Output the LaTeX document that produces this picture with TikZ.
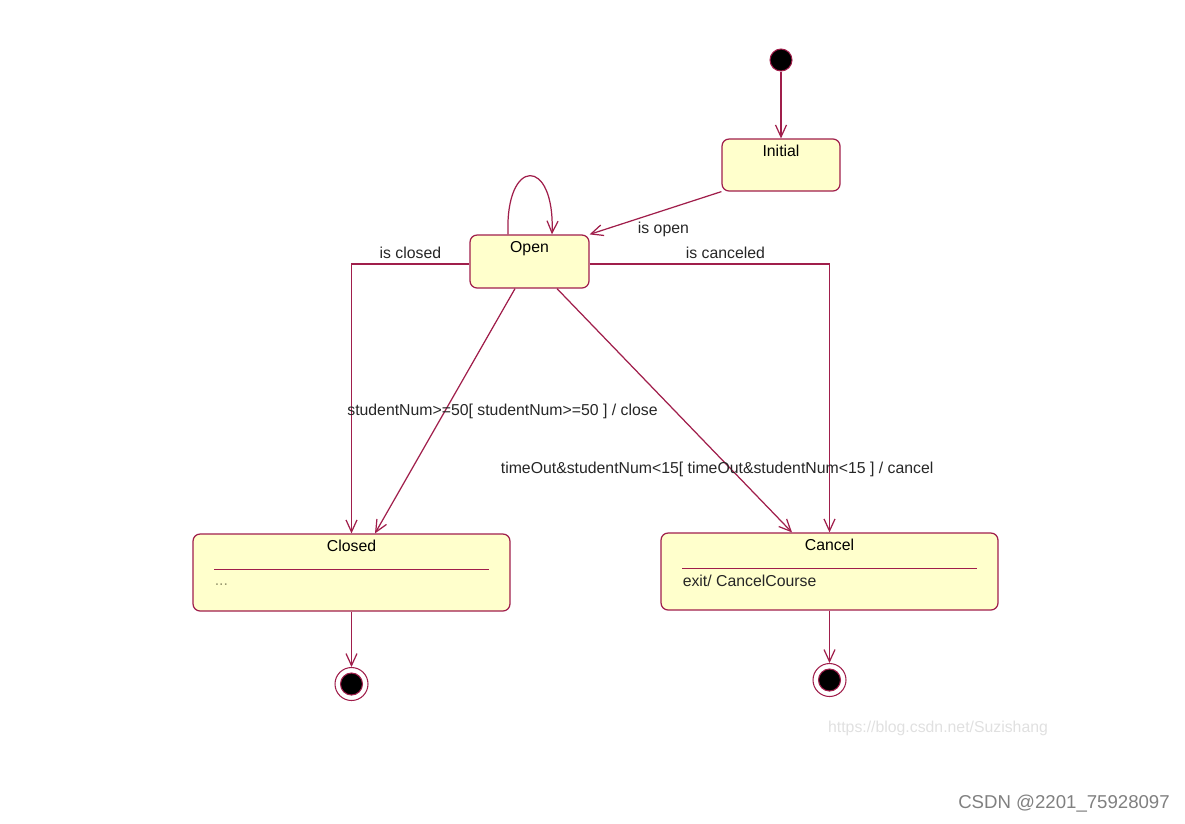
\documentclass[tikz,border=0pt]{standalone}
\usepackage{fontspec}
\setmainfont{Liberation Sans}
\usetikzlibrary{positioning, arrows.meta}
\definecolor{umlline}{RGB}{160,30,75}
\definecolor{umlfill}{RGB}{255,255,204}
\definecolor{umldots}{RGB}{150,150,110}

\begin{document}
\begin{tikzpicture}[
		x=0.02cm, y=-0.02cm,
		font=\fontsize{9pt}{11pt}\selectfont,
		state/.style={rectangle, draw=umlline, fill=umlfill, rounded corners=4pt, line width=0.7pt, inner sep=0pt},
		title/.style={anchor=center, yshift=-0.24cm, text height=1.6ex, text depth=0.3ex, inner sep=0pt},
		startdot/.style={circle, draw=umlline, fill=black, minimum size=0.44cm, inner sep=0pt, line width=0.6pt},
		enddot/.style={circle, draw=umlline, fill=white, minimum size=0.66cm, inner sep=0pt, line width=0.6pt,
		path picture={\fill[draw=umlline, fill=black] (path picture bounding box.center) circle (0.22cm);}},
		trans/.style={draw=umlline, line width=0.7pt, ->},
		mylabel/.style={text=black!85, inner sep=1pt},
		>={Straight Barb[length=2.4mm, width=2.2mm]}
	]

	\useasboundingbox (0,0) rectangle (1185,823);

	\node[startdot] (start) at (781,60) {};
	\node[state, minimum width=2.36cm, minimum height=1.04cm, label={[title]north:Initial}] (init) at (781,165) {};
	\node[state, minimum width=2.38cm, minimum height=1.06cm, label={[title]north:Open}] (open) at (529.5,261.5) {};
	\node[state, minimum width=6.34cm, minimum height=1.54cm, label={[title]north:Closed}] (closed) at (351.5,572.5) {};
	\node[state, minimum width=6.74cm, minimum height=1.54cm, label={[title]north:Cancel}] (cancel) at (829.5,571.5) {};
	\node[enddot] (endclosed) at (351.5,684) {};
	\node[enddot] (endcancel) at (829.5,680) {};

	\foreach \s in {closed, cancel}
		\draw[umlline, line width=0.7pt] ([xshift=0.44cm, yshift=-0.72cm]\s.north west) -- ([xshift=-0.44cm, yshift=-0.72cm]\s.north east);

	\node[anchor=west, text=umldots, inner sep=0pt] (dots) at ([xshift=0.44cm, yshift=-1.02cm]closed.north west) {...};
	\node[anchor=west, mylabel, inner sep=0pt] (exit) at ([xshift=0.44cm, yshift=-0.96cm]cancel.north west) {exit/ CancelCourse};

	\foreach \i/\j in {start/init, closed/endclosed, cancel/endcancel}
		\draw[trans] (\i) -- (\j);

	\draw[trans] (init.south west) -- node[mylabel, pos=0.44, yshift=-0.38cm] {is open} (open.north east);
	\draw[trans] ([yshift=-0.05cm]open.west) -| node[mylabel, pos=0.25, above=1.5pt] {is closed} (closed.north);
	\draw[trans] ([yshift=-0.05cm]open.east) -| node[mylabel, pos=0.283, above=1.5pt] {is canceled} (cancel.north);

	\draw[trans] ([xshift=-0.29cm]open.south) -- node[mylabel, pos=0.5, xshift=1.15cm] {studentNum>=50[ studentNum>=50 ] / close} ([xshift=0.47cm]closed.north);
	\draw[trans] ([xshift=0.55cm]open.south) -- node[mylabel, pos=0.743, xshift=-0.29cm] {timeOut\&studentNum<15[ timeOut\&studentNum<15 ] / cancel} ([xshift=-0.75cm]cancel.north);

	\draw[trans] ([xshift=-0.43cm]open.north) .. controls +(-3,-78) and +(3,-78) .. ([xshift=0.45cm]open.north);

	\node[text=black!12] (url) at (938,728) {https://blog.csdn.net/Suzishang};
	\node[font=\fontsize{10.6pt}{13pt}\selectfont, text=black!50] (csdn) at (1064,804) {CSDN @2201\_75928097};

\end{tikzpicture}
\end{document}
